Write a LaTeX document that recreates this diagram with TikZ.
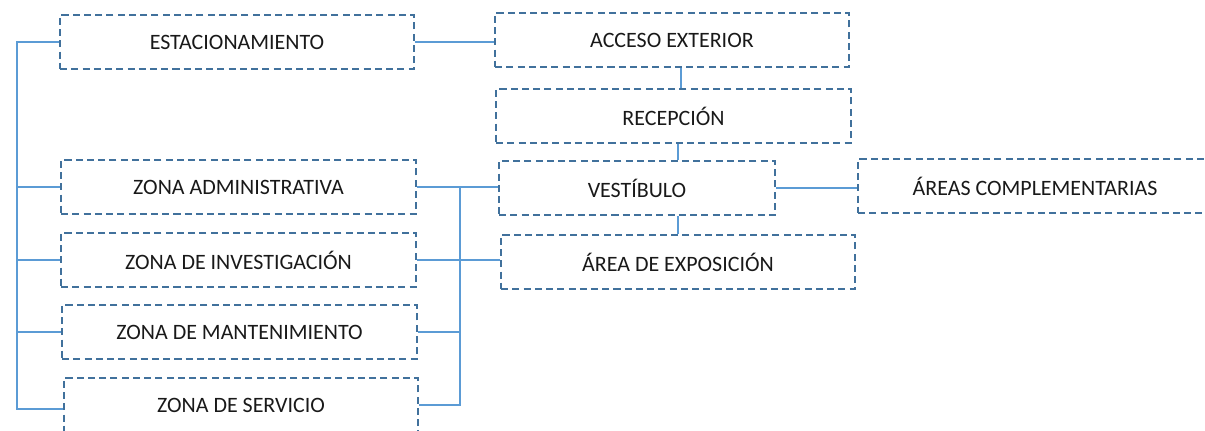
\documentclass[tikz,border=0pt]{standalone}
\usepackage{fontspec}
\setmainfont{Carlito}
\definecolor{borde}{RGB}{65,113,156}
\definecolor{linea}{RGB}{91,155,213}
\tikzset{
    zona/.style={draw=borde, line width=0.8pt, dash pattern=on 4pt off 2.4pt,
        minimum width=7.08cm, minimum height=1.08cm, inner sep=0pt,
        font=\fontsize{12.5}{14}\selectfont, text=black!90},
    enlace/.style={draw=linea, line width=0.6pt}
}
\begin{document}
\begin{tikzpicture}[x=0.02cm, y=-0.02cm]
    \useasboundingbox (0,0) rectangle (1205,431);
    % Zones on the left
    \node[zona] (est) at (237,42) {ESTACIONAMIENTO};
    \node[zona, minimum width=7.1cm] (adm) at (238.5,187) {ZONA ADMINISTRATIVA};
    \node[zona, minimum width=7.1cm] (inv) at (238.5,260) {ZONA DE INVESTIGACIÓN};
    \node[zona, minimum width=7.1cm] (man) at (239.5,332) {ZONA DE MANTENIMIENTO};
    \node[zona] (ser) at (241,405) {ZONA DE SERVICIO};
    % Main sequence
    \node[zona] (acc) at (672,40) {ACCESO EXTERIOR};
    \node[zona, minimum width=7.1cm] (rec) at (673.5,116) {RECEPCIÓN};
    \node[zona, minimum width=5.52cm] (ves) at (637,188) {VESTÍBULO};
    \node[zona] (expo) at (678,262) {ÁREA DE EXPOSICIÓN};
    \node[zona] (comp) at (1035,186) {ÁREAS COMPLEMENTARIAS};
    % Left trunk
    \coordinate (lt) at (17,40);
    \coordinate (lb) at (17,409);
    \draw[enlace] (est.west) -- (est.west -| lt) -- (lb) -- (lb -| ser.west);
    \foreach \z in {adm,inv,man}{
        \draw[enlace] (\z.west) -- (\z.west -| lt);
    }
    % Right trunk
    \coordinate (rt) at (460,187);
    \draw[enlace] (adm.east) -- (adm.east -| ves.west);
    \draw[enlace] (inv.east) -- (inv.east -| expo.west);
    \draw[enlace] (rt) |- (ser.east);
    \draw[enlace] (man.east) -- (man.east -| rt);
    % Sequence links
    \coordinate (eje) at (681,0);
    \draw[enlace] (est.east) -- (est.east -| acc.west);
    \draw[enlace] (acc.south -| eje) -- (rec.north -| eje);
    \draw[enlace] (rec.south -| expo.north) -- (ves.north -| expo.north);
    \draw[enlace] (expo.north) -- (expo.north |- ves.south);
    \draw[enlace] (ves.east) -- (ves.east -| comp.west);
\end{tikzpicture}
\end{document}
